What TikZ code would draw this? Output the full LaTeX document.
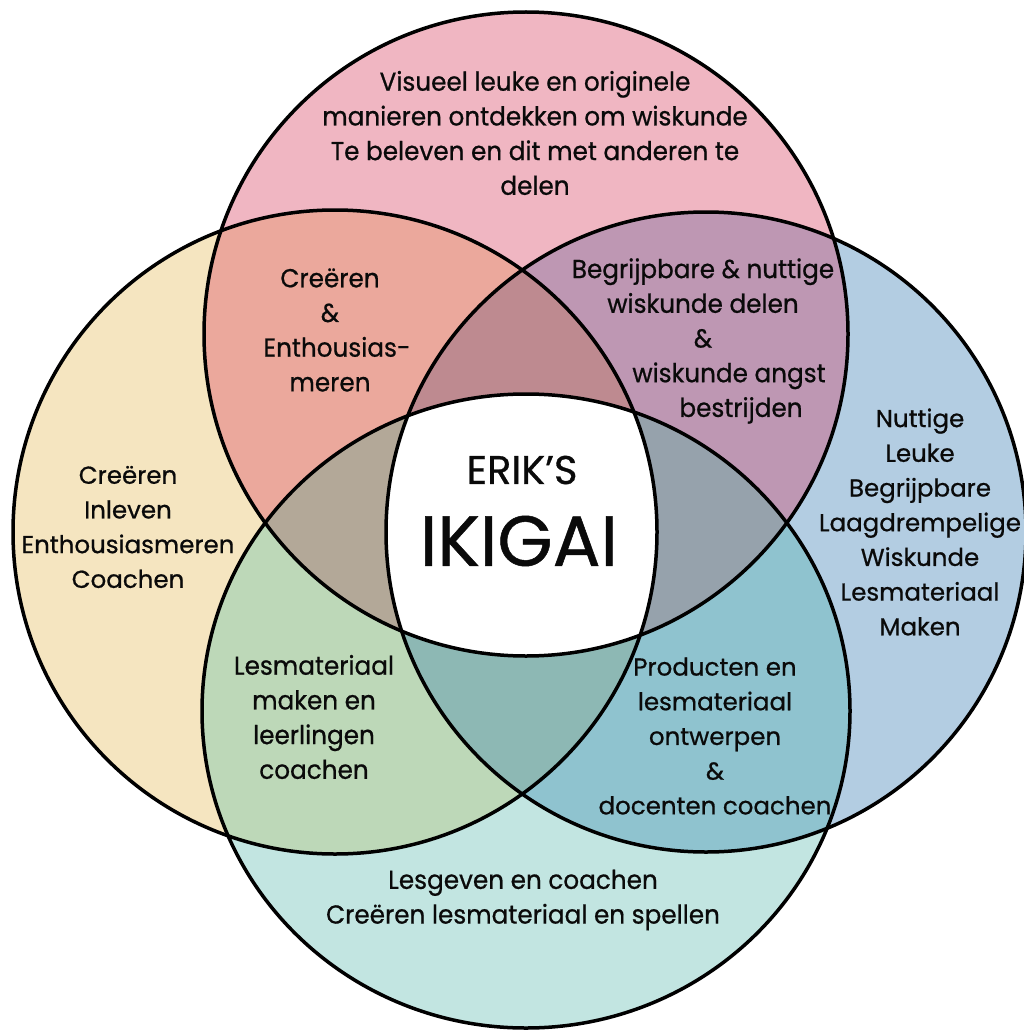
\documentclass[tikz,border=0pt]{standalone}
\usepackage{fontspec}
\setmainfont{Poppins}[FakeBold=0.7]
\newfontfamily\condfont{Poppins}[FakeStretch=0.95,FakeBold=0.7]
\definecolor{cTop}{HTML}{F0B6C2}
\definecolor{cLeft}{HTML}{F5E5C0}
\definecolor{cRight}{HTML}{B3CDE2}
\definecolor{cBot}{HTML}{C2E5E1}
\definecolor{cTL}{HTML}{EBA89C}
\definecolor{cTR}{HTML}{BE97B3}
\definecolor{cLB}{HTML}{BDD8B8}
\definecolor{cRB}{HTML}{8FC3CF}
\definecolor{cTLR}{HTML}{BE8A90}
\definecolor{cTLB}{HTML}{B3A898}
\definecolor{cTRB}{HTML}{96A2AC}
\definecolor{cLRB}{HTML}{8DB8B4}
\definecolor{ink}{HTML}{0A0A0A}
\begin{document}
\begin{tikzpicture}[x=1pt,y=-1pt,
  txt/.style={align=center, font=\fontsize{24.5}{34.7}\selectfont, text=ink, inner sep=0pt},
  ctxt/.style={align=center, font=\condfont\fontsize{26}{34.7}\selectfont, text=ink, inner sep=0pt},
  ring/.style={draw=black, line width=3.5pt}]
\useasboundingbox (0,0) rectangle (1024,1030);
\clip (0,0) rectangle (1024,1030);
\coordinate (cT) at (526,334);
\coordinate (cL) at (335,532);
\coordinate (cR) at (706,532);
\coordinate (cB) at (526,711);
\def\sT{circle (322pt)}
\def\sL{circle (322pt)}
\def\sR{circle (320pt)}
\def\sB{ellipse [x radius=324pt, y radius=317pt]}
% base fills
\fill[cTop] (cT) \sT;
\fill[cLeft] (cL) \sL;
\fill[cRight] (cR) \sR;
\fill[cBot] (cB) \sB;
% pairs
\begin{scope}\clip (cT) \sT; \fill[cTL] (cL) \sL; \fill[cTR] (cR) \sR;\end{scope}
\begin{scope}\clip (cB) \sB; \fill[cLB] (cL) \sL; \fill[cRB] (cR) \sR;\end{scope}
% triples
\begin{scope}\clip (cT) \sT; \clip (cL) \sL; \fill[cTLR] (cR) \sR; \fill[cTLB] (cB) \sB;\end{scope}
\begin{scope}\clip (cT) \sT; \clip (cR) \sR; \fill[cTRB] (cB) \sB;\end{scope}
\begin{scope}\clip (cL) \sL; \clip (cR) \sR; \fill[cLRB] (cB) \sB;\end{scope}
% all four
\begin{scope}\clip (cT) \sT; \clip (cL) \sL; \clip (cR) \sR; \fill[white] (cB) \sB;\end{scope}
% outlines
\draw[ring] (cT) \sT;
\draw[ring] (cL) \sL;
\draw[ring] (cR) \sR;
\draw[ring] (cB) \sB;
% texts
\node[ctxt] (ttop) at (535,133) {Visueel leuke en originele\\manieren ontdekken om wiskunde\\Te beleven en dit met anderen te\\delen};
\node[ctxt] (ttl) at (330,330) {Creëren\\\&\\\hspace*{14pt}Enthousias-\\meren};
\node[ctxt] (ttr) at (703,341) {Begrijpbare \& nuttige\\wiskunde delen\\\&\\\hspace*{52pt}wiskunde angst\\\hspace*{76pt}bestrijden};
\node[txt] (tleft) at (128,527) {Creëren\\Inleven\\Enthousiasmeren\\Coachen};
\node[txt] (tright) at (920,522) {Nuttige\\Leuke\\Begrijpbare\\Laagdrempelige\\Wiskunde\\Lesmateriaal\\Maken};
\node[txt, font=\fontsize{40}{44}\selectfont] (terik) at (522,470) {ERIK’S};
\node[txt, font=\fontsize{71}{76}\selectfont] (tiki) at (519,541) {IKIGAI};
\node[ctxt] (tbl) at (314,717) {Lesmateriaal\\maken en\\leerlingen\\coachen};
\node[txt] (tbr) at (715,736) {Producten en\\lesmateriaal\\ontwerpen\\\&\\docenten coachen};
\node[ctxt] (tbot) at (523,900) {Lesgeven en coachen\\Creëren lesmateriaal en spellen};
\end{tikzpicture}
\end{document}
